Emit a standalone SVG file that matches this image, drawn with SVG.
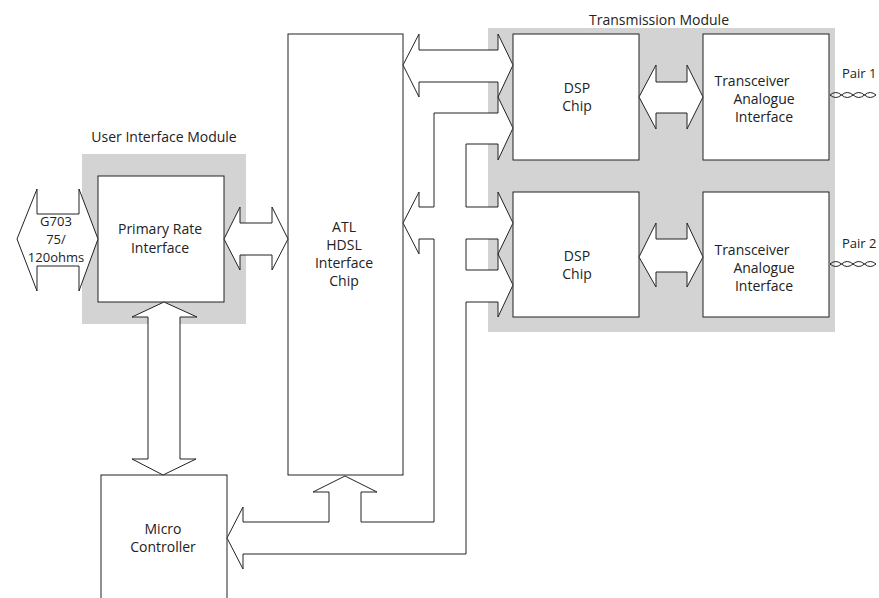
<svg xmlns="http://www.w3.org/2000/svg" width="879" height="598" viewBox="0 0 879 598">
<style>
.mod{fill:#d3d3d3;stroke:none}
.box{fill:#fff;stroke:#222;stroke-width:1}
.conn{fill:#fff;stroke:#222;stroke-width:1;stroke-linejoin:miter}
.wire{fill:none;stroke:#222;stroke-width:1}
text{font-family:"Open Sans","Noto Sans","Liberation Sans",sans-serif;font-size:14px;fill:#222;text-anchor:middle}
.small{font-size:13px}
.pair{font-size:13px;text-anchor:start}
</style>
<rect width="879" height="598" fill="#fff"/>
<g id="user-interface-module">
<rect class="mod" x="82" y="154" width="164" height="170"/>
<text x="164" y="142">User Interface Module</text>
</g>
<g id="transmission-module">
<rect class="mod" x="488" y="28" width="347" height="304"/>
<text x="659" y="25">Transmission Module</text>
</g>
<g id="primary-rate-interface">
<rect class="box" x="98" y="176" width="126" height="126"/>
<text x="160" y="234">Primary Rate</text>
<text x="160" y="253">Interface</text>
</g>
<g id="atl-chip">
<rect class="box" x="288" y="34" width="115" height="441"/>
<text x="344" y="232">ATL</text>
<text x="344" y="250">HDSL</text>
<text x="344" y="268">Interface</text>
<text x="344" y="286">Chip</text>
</g>
<g id="micro-controller">
<rect class="box" x="101" y="475" width="126" height="130"/>
<text x="163" y="534">Micro</text>
<text x="163" y="552">Controller</text>
</g>
<g id="dsp-chip-1">
<rect class="box" x="513" y="34" width="126" height="126"/>
<text x="577" y="93">DSP</text>
<text x="577" y="111">Chip</text>
</g>
<g id="transceiver-1">
<rect class="box" x="703" y="34" width="126" height="126"/>
<text x="752" y="86">Transceiver</text>
<text x="764" y="104">Analogue</text>
<text x="764" y="122">Interface</text>
</g>
<g id="dsp-chip-2">
<rect class="box" x="513" y="192" width="126" height="125"/>
<text x="577" y="261">DSP</text>
<text x="577" y="279">Chip</text>
</g>
<g id="transceiver-2">
<rect class="box" x="703" y="192" width="126" height="125"/>
<text x="752" y="255">Transceiver</text>
<text x="764" y="273">Analogue</text>
<text x="764" y="291">Interface</text>
</g>
<g id="pair-1">
<text class="pair" x="842" y="78">Pair 1</text>
<path class="wire" d="M830,95 q5.75,-5 11.5,0 t11.5,0 t11.5,0 t11.5,0"/>
<path class="wire" d="M830,95 q5.75,5 11.5,0 t11.5,0 t11.5,0 t11.5,0"/>
</g>
<g id="pair-2">
<text class="pair" x="842" y="248">Pair 2</text>
<path class="wire" d="M830,264 q5.75,-5 11.5,0 t11.5,0 t11.5,0 t11.5,0"/>
<path class="wire" d="M830,264 q5.75,5 11.5,0 t11.5,0 t11.5,0 t11.5,0"/>
</g>
<g id="connectors">
<polygon class="conn" points="17,239 37,189 37,214 79,214 79,189 98,239 79,291 79,266 37,266 37,291"/>
<text class="small" x="56" y="226">G703</text>
<text class="small" x="56" y="244">75/</text>
<text class="small" x="56" y="262">120ohms</text>
<polygon class="conn" points="224,239 240,207 240,223 272,223 272,207 288,239 272,270 272,255 240,255 240,270"/>
<polygon class="conn" points="164,302 197,317 180,317 180,459 196,459 163,475 132,459 148,459 148,317 132,317"/>
<polygon class="conn" points="403,65 419,34 419,50 498,50 498,34 513,65 498,97 498,82 419,82 419,97"/>
<polygon class="conn" points="403,223 419,192 419,207 434,207 434,113 498,113 498,97 513,128 498,160 498,144 466,144 466,207 498,207 498,192 513,223 498,254 498,239 466,239 466,270 498,270 498,254 513,285 498,317 498,302 466,302 466,554 243,554 243,569 227,538 243,507 243,522 329,522 329,492 313,492 345,476 377,492 361,492 361,522 434,522 434,239 419,239 419,254"/>
<polygon class="conn" points="639,97 656,65 656,82 687,82 687,65 703,97 687,129 687,113 656,113 656,129"/>
<polygon class="conn" points="639,257 656,223 656,239 687,239 687,223 703,257 687,287 687,272 656,272 656,287"/>
</g>
</svg>
